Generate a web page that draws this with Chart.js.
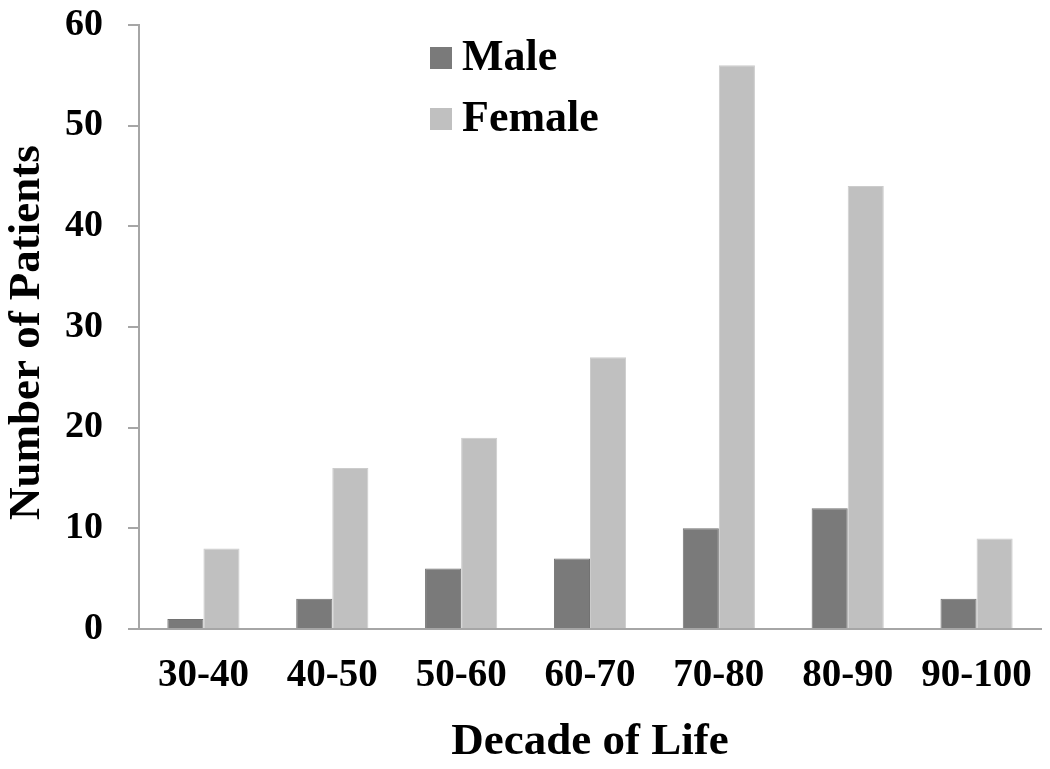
<!DOCTYPE html>
<html>
<head>
<meta charset="utf-8">
<script src="https://cdn.jsdelivr.net/npm/chart.js@4"></script>
<style>
  body { margin: 0; background: #fff; }
  canvas { display: block; }
</style>
</head>
<body>
<canvas id="myChart" width="1050" height="769"></canvas>
<script>
const decades = ["30-40", "40-50", "50-60", "60-70", "70-80", "80-90", "90-100"]
const male = [1, 3, 6, 7, 10, 12, 3]
const female = [8, 16, 19, 27, 56, 44, 9]
const yTicks = [0, 10, 20, 30, 40, 50, 60]

const serif = "'Liberation Serif', 'Times New Roman', serif"
Chart.defaults.font.family = serif
Chart.defaults.font.weight = "bold"
Chart.defaults.color = "#000"

// legend stacked top-left inside the plot, like the original
const sideLegend = {
    id: "sideLegend",
    afterDraw(chart) {
        const ctx = chart.ctx
        ctx.save()
        ctx.font = "bold 44px " + serif
        ctx.textBaseline = "alphabetic"
        chart.data.datasets.forEach((ds, i) => {
            const y = 47 + i * 61
            ctx.fillStyle = ds.backgroundColor
            ctx.fillRect(430, y, 22, 22)
            ctx.fillStyle = "#000"
            ctx.fillText(ds.label, 462, y + 23)
        })
        ctx.restore()
    }
}

const data = {
    labels: decades,
    datasets: [{
        label: "Male",
        data: male,
        backgroundColor: "#7a7a7a",
        borderColor: "#727272",
        borderWidth: 1
    }, {
        label: "Female",
        data: female,
        backgroundColor: "#c0c0c0",
        borderColor: "#cccccc",
        borderWidth: 1
    }]
}

const config = {
    type: "bar",
    data: data,
    plugins: [sideLegend],
    options: {
        responsive: false,
        animation: false,
        categoryPercentage: 0.56,
        barPercentage: 1,
        layout: { padding: { top: 25, right: 9, left: 0, bottom: 0 } },
        plugins: {
            legend: { display: false },
            tooltip: { enabled: false }
        },
        scales: {
            x: {
                grid: { display: false },
                border: { display: true, color: "#a6a6a6", width: 2 },
                ticks: { font: { size: 39 }, padding: 16, maxRotation: 0 },
                title: {
                    display: true,
                    text: "Decade of Life",
                    font: { size: 45, lineHeight: 1 },
                    padding: { top: 0, bottom: 4 }
                },
                afterFit: s => { s.height = 140; s.paddingLeft = 0; s.paddingRight = 0 }
            },
            y: {
                min: 0,
                max: 60,
                afterBuildTicks: s => { s.ticks = yTicks.map(v => ({ value: v })) },
                grid: {
                    drawOnChartArea: false,
                    drawTicks: true,
                    tickLength: 11,
                    color: "#a6a6a6",
                    lineWidth: 2
                },
                border: { display: true, color: "#a6a6a6", width: 2 },
                ticks: { font: { size: 38 }, padding: 25 },
                title: {
                    display: true,
                    text: "Number of Patients\u00a0",
                    font: { size: 45, lineHeight: 1 },
                    padding: { top: 5, bottom: 0 }
                },
                afterFit: s => { s.width = 139; s.paddingTop = 0; s.paddingBottom = 0 }
            }
        }
    }
}

window.addEventListener("DOMContentLoaded", () => {
    new Chart(document.getElementById("myChart"), config)
})
</script>
</body>
</html>
